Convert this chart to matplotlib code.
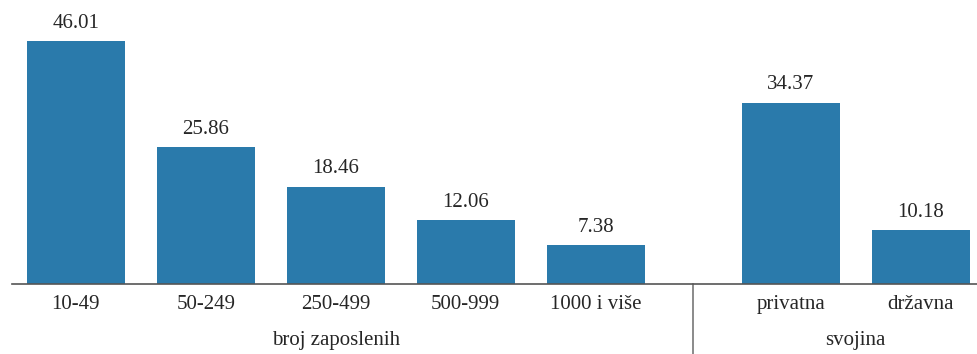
import matplotlib
matplotlib.use("Agg")
import matplotlib.pyplot as plt

categories = ["10-49", "50-249", "250-499", "500-999", "1000 i više", "privatna", "državna"]
values = [46.01, 25.86, 18.46, 12.06, 7.38, 34.37, 10.18]
value_labels = ["46.01", "25.86", "18.46", "12.06", "7.38", "34.37", "10.18"]
group_names = ["broj zaposlenih", "svojina"]

positions = [0, 1, 2, 3, 4, 5.5, 6.5]
bar_color = "#2a7aab"
text_color = "#262626"
font = ["Liberation Serif", "DejaVu Serif"]
fs = 15

fig = plt.figure(figsize=(9.78, 3.54), dpi=100)
ax = fig.add_axes([12/978, 70/354, 966/978, 284/354])
ax.bar(positions, values, width=0.754, color=bar_color)
for x, v, lab in zip(positions, values, value_labels):
    ax.text(x, v + 1.6, lab, ha="center", va="bottom", fontsize=fs,
            color=text_color, family=font)

ax.set_xlim(-0.49, 6.94)
ax.set_ylim(0, 53.8)
for s in ["top", "right", "left"]:
    ax.spines[s].set_visible(False)
ax.spines["bottom"].set_color("#555555")
ax.spines["bottom"].set_linewidth(1.2)
ax.set_yticks([])
ax.set_xticks(positions)
ax.set_xticklabels(categories, fontsize=fs, color=text_color, family=font)
ax.tick_params(axis="x", length=0, pad=8)

# separator line
sep = 4.75
ax.plot([sep, sep], [0, -70/284*53.8], color="#777777", lw=1.2, clip_on=False)

# group labels
ax.text(2, -57/284*53.8, group_names[0], ha="center", va="center", fontsize=fs,
        color=text_color, family=font)
ax.text(6.0, -57/284*53.8, group_names[1], ha="center", va="center", fontsize=fs,
        color=text_color, family=font)

fig.savefig("out.png", dpi=100)
